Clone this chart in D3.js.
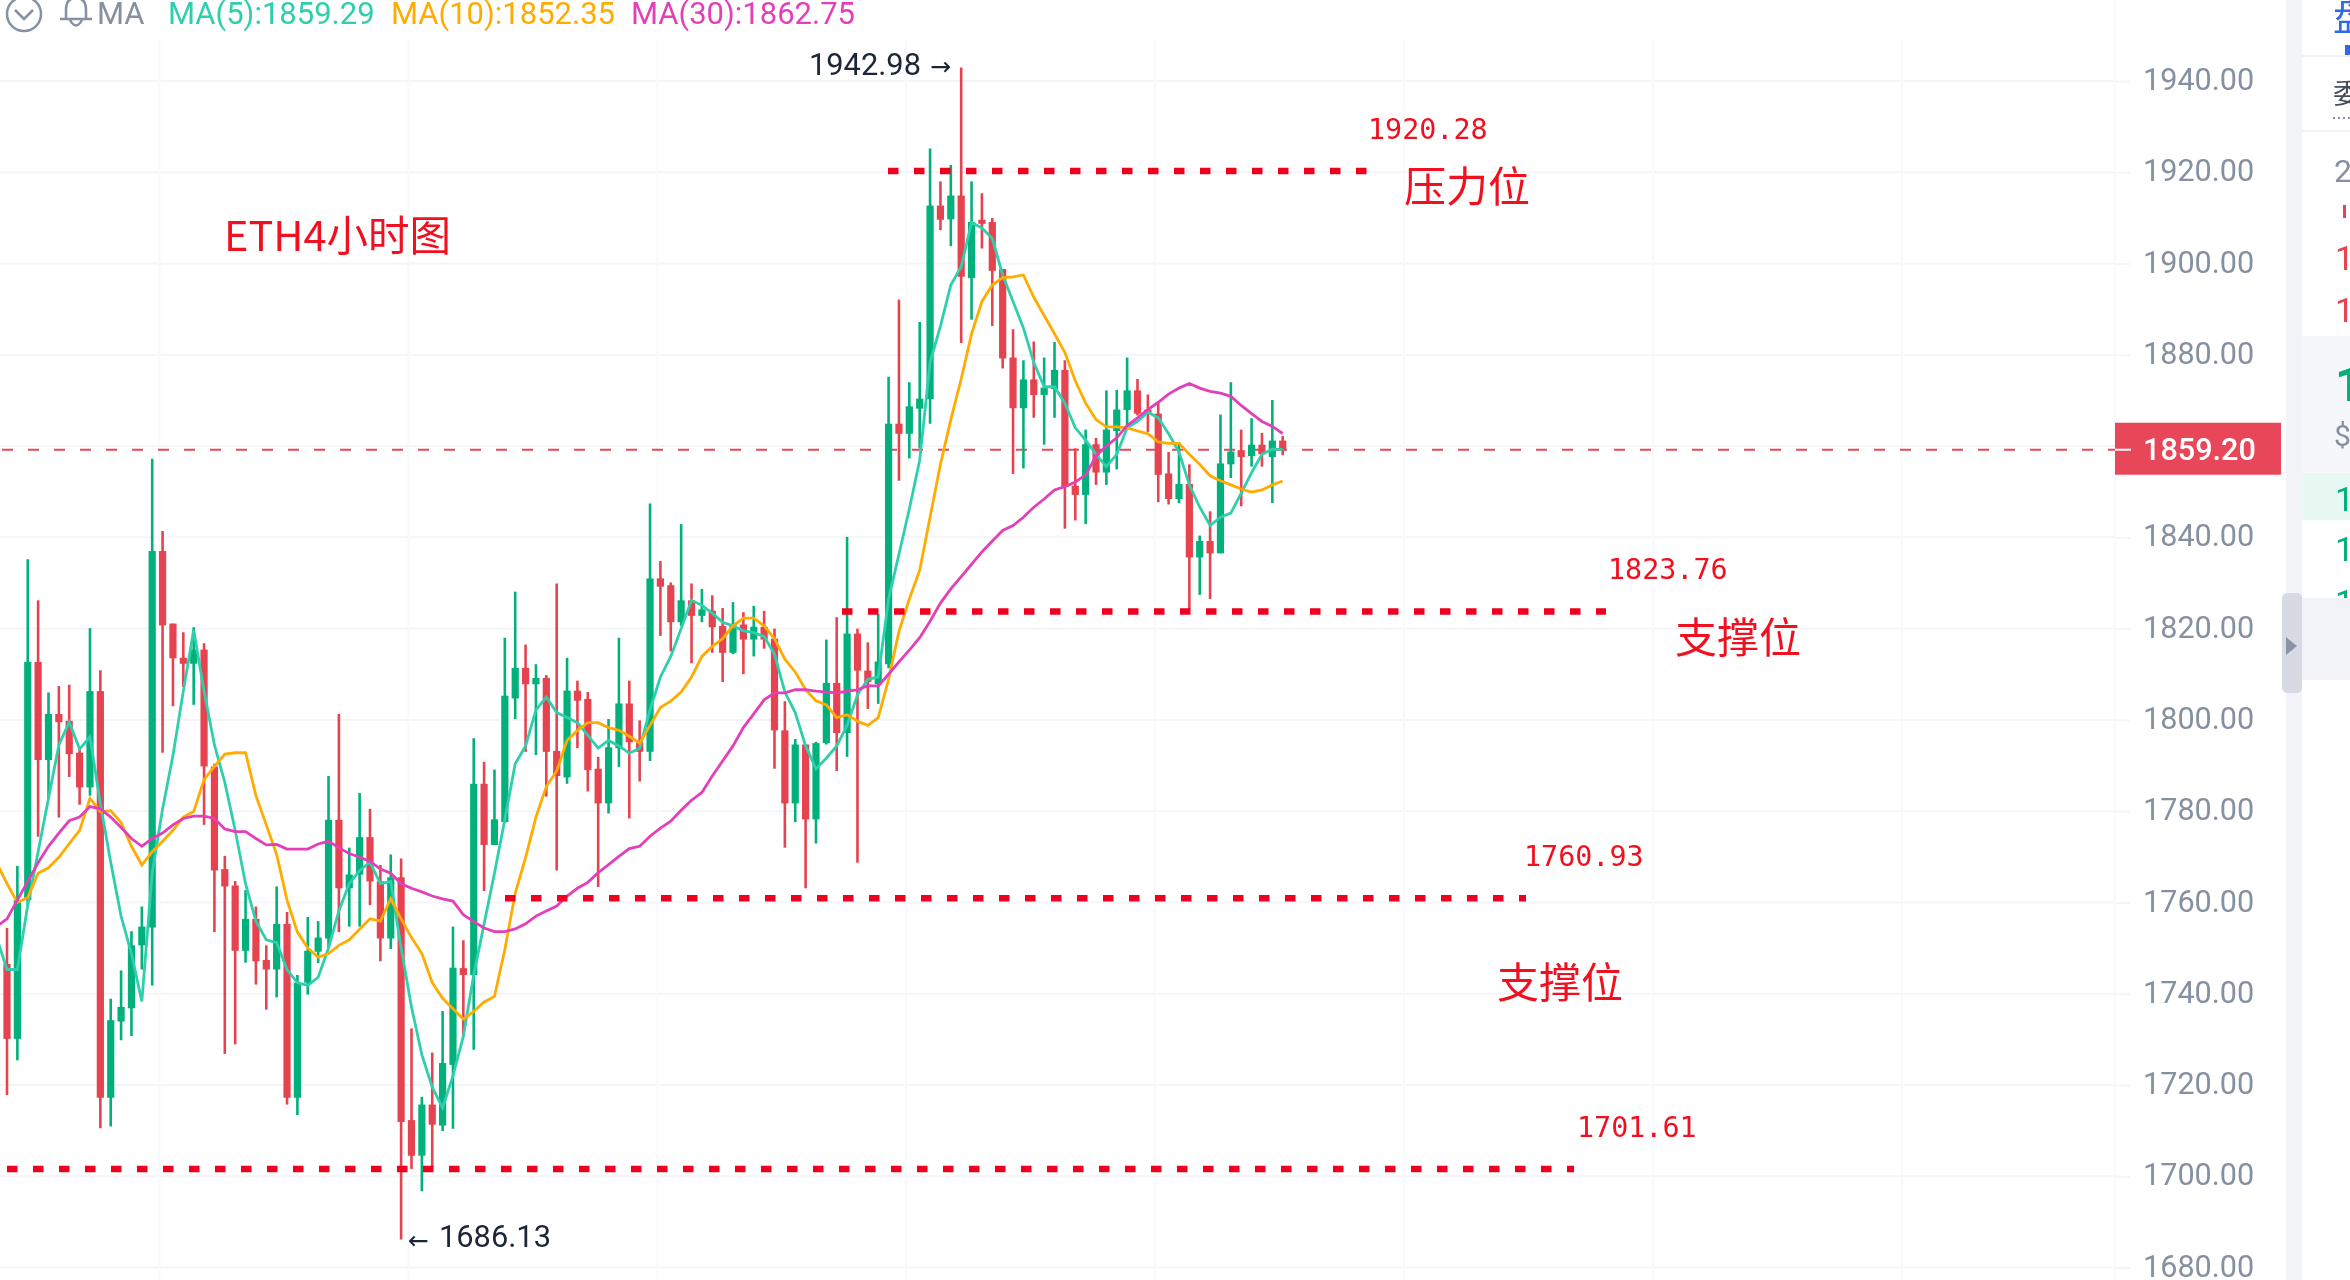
<!DOCTYPE html>
<html>
<head>
<meta charset="utf-8">
<script src="https://cdn.jsdelivr.net/npm/d3@7"></script>
<style>
  html, body { margin: 0; padding: 0; background: #fff; overflow: hidden; }
  text { font-family: Roboto, sans-serif; }
  #svg { filter: blur(0.5px); }
</style>
</head>
<body>
<svg id="svg" width="2350" height="1280"></svg>
<script>
// candles, oldest first
const opens = [
  1746.5,1730.1,1760.5,1812.7,1791.2,1801.3,1799.8,1792.8,1785.2,1806.3,
  1717.2,1733.9,1736.8,1750.6,1754.5,1837.0,1821.1,1813.6,1812.3,1815.4,
  1789.8,1767.3,1763.7,1749.4,1756.4,1747.4,1745.3,1755.3,1717.2,1742.4,
  1749.2,1752.1,1778.1,1763.1,1766.1,1774.3,1764.6,1752.1,1765.5,1712.3,
  1704.5,1715.7,1711.1,1724.4,1745.6,1744.1,1786.0,1772.6,1777.6,1804.7,
  1811.4,1807.8,1809.2,1793.2,1787.4,1806.4,1804.6,1789.3,1781.7,1793.8,
  1803.6,1795.1,1793.0,1831.0,1829.5,1821.4,1826.2,1822.8,1823.9,1820.6,
  1814.7,1820.9,1817.6,1820.4,1817.8,1797.7,1781.7,1794.6,1778.2,1794.9,
  1808.1,1797.1,1818.9,1810.8,1807.8,1812.2,1864.9,1862.7,1868.2,1870.3,
  1912.7,1909.7,1914.9,1896.8,1909.6,1909.1,1898.8,1879.4,1868.3,1874.6,
  1871.2,1872.5,1876.7,1851.3,1849.3,1860.4,1854.2,1863.3,1867.9,1872.2,
  1868.0,1867.1,1854.0,1848.4,1851.7,1835.6,1839.2,1836.5,1856.0,1859.1,
  1857.8,1860.3,1857.6,1861.2
]
const closes = [
  1730.1,1760.5,1812.7,1791.2,1801.3,1799.5,1792.5,1785.2,1806.3,1717.2,
  1734.2,1737.1,1750.6,1754.7,1837.0,1820.7,1813.5,1812.3,1815.4,1789.8,
  1767.0,1763.5,1749.4,1756.4,1747.1,1745.3,1755.3,1717.2,1742.4,1749.4,
  1752.3,1778.1,1763.1,1766.1,1774.3,1764.6,1752.1,1765.5,1711.9,1704.5,
  1715.7,1711.3,1724.8,1745.7,1744.1,1786.0,1772.6,1778.2,1805.3,1811.4,
  1807.8,1809.2,1793.0,1787.7,1806.4,1804.2,1789.0,1781.7,1794.0,1803.6,
  1795.1,1793.0,1831.0,1829.2,1821.4,1826.2,1822.8,1824.2,1820.3,1814.7,
  1820.9,1817.6,1820.4,1817.6,1797.7,1781.7,1794.6,1778.2,1794.9,1808.1,
  1797.1,1818.9,1810.8,1808.3,1812.8,1864.9,1862.7,1868.7,1870.4,1912.7,
  1909.6,1914.9,1897.1,1909.1,1908.7,1898.4,1879.2,1868.3,1874.6,1871.2,
  1872.8,1876.7,1851.1,1849.3,1860.4,1854.2,1863.6,1868.0,1872.2,1867.1,
  1867.1,1853.7,1848.4,1851.7,1835.6,1839.2,1836.5,1856.2,1858.8,1857.6,
  1860.3,1858.2,1861.2,1859.2
]
const highs = [
  1754.4,1768.0,1835.2,1826.2,1806.0,1807.4,1807.7,1793.6,1820.1,1810.9,
  1738.9,1745.1,1753.7,1759.1,1857.2,1841.4,1821.1,1819.2,1820.3,1816.8,
  1790.4,1770.2,1764.7,1762.7,1759.1,1750.6,1763.5,1757.9,1744.1,1756.8,
  1755.9,1787.7,1801.3,1772.0,1784.0,1780.5,1768.2,1770.5,1769.6,1732.4,
  1717.4,1727.1,1736.2,1754.7,1751.7,1796.0,1790.8,1789.1,1818.0,1828.1,
  1816.5,1812.2,1809.8,1829.9,1813.6,1808.6,1806.1,1791.9,1800.2,1818.0,
  1808.6,1799.9,1847.4,1834.8,1830.1,1842.9,1829.9,1828.7,1827.3,1824.5,
  1825.8,1823.6,1825.0,1823.9,1820.0,1804.1,1795.8,1794.6,1795.2,1817.6,
  1822.5,1840.1,1820.0,1817.0,1823.2,1875.2,1892.1,1874.0,1887.2,1925.2,
  1918.0,1921.6,1942.98,1918.0,1915.4,1910.0,1898.8,1885.6,1878.8,1882.9,
  1879.4,1882.8,1878.8,1859.5,1863.6,1861.8,1872.2,1872.3,1879.4,1874.7,
  1871.3,1869.6,1858.7,1860.9,1856.0,1840.4,1845.7,1866.9,1874.0,1863.6,
  1866.1,1862.9,1870.1,1862.2
]
const lows = [
  1717.8,1725.4,1759.4,1774.4,1782.6,1778.6,1787.5,1781.4,1783.4,1710.5,
  1710.9,1729.8,1730.7,1745.3,1741.8,1792.8,1803.0,1807.2,1803.3,1777.0,
  1753.5,1726.8,1728.9,1746.8,1742.0,1736.5,1739.2,1715.7,1713.4,1739.8,
  1746.7,1750.0,1753.5,1754.7,1754.7,1759.4,1747.1,1749.8,1686.13,1701.6,
  1696.7,1702.0,1709.9,1710.4,1730.7,1727.7,1762.5,1772.6,1777.4,1800.2,
  1793.0,1792.3,1783.2,1767.0,1786.0,1793.8,1784.3,1763.4,1779.5,1789.7,
  1778.4,1786.5,1791.0,1818.4,1815.0,1820.6,1812.4,1821.4,1814.7,1808.3,
  1814.4,1810.0,1813.9,1815.6,1789.3,1772.0,1777.6,1763.1,1772.9,1794.6,
  1788.8,1791.9,1768.7,1802.4,1803.5,1811.3,1852.4,1857.3,1859.5,1864.9,
  1907.3,1903.8,1882.6,1887.7,1903.3,1886.3,1877.0,1853.9,1855.1,1866.2,
  1860.3,1866.2,1841.9,1843.7,1842.9,1851.5,1851.5,1854.9,1864.5,1866.7,
  1863.1,1847.7,1847.2,1847.5,1824.3,1827.4,1826.5,1836.5,1853.0,1846.8,
  1855.5,1855.5,1847.5,1858.0
]

// moving averages, first value belongs to the candle just off the left edge
const ma5 = [
  1752.3,
  1745.3,1745.3,1759.4,1771.1,1782.8,1794.5,1799.5,1793.6,1796.3,1781.6,
  1768.8,1757.0,1748.8,1738.3,1766.4,1780.5,1792.2,1806.3,1819.7,1806.3,
  1794.5,1786.3,1775.8,1764.1,1755.9,1751.8,1751.2,1745.3,1742.4,1741.8,
  1743.6,1750.0,1758.2,1764.1,1767.0,1768.8,1764.1,1764.6,1750.0,1737.1,
  1726.6,1719.5,1715.0,1722.0,1730.7,1744.1,1755.3,1766.4,1778.2,1790.4,
  1794.3,1802.2,1805.0,1801.6,1800.5,1799.4,1796.6,1793.8,1795.5,1794.3,
  1792.7,1793.8,1802.2,1809.4,1813.9,1820.0,1826.2,1825.1,1823.4,1821.4,
  1820.6,1819.5,1819.1,1818.3,1814.4,1806.1,1801.6,1794.3,1789.3,1791.6,
  1794.3,1798.8,1805.5,1808.9,1809.4,1826.5,1836.3,1846.2,1856.9,1878.3,
  1886.3,1895.3,1899.3,1909.0,1907.8,1905.5,1897.5,1891.7,1885.9,1878.3,
  1873.0,1873.0,1869.4,1864.0,1861.3,1858.2,1855.5,1858.2,1864.0,1865.4,
  1867.4,1866.2,1862.7,1858.7,1851.5,1846.6,1842.6,1844.4,1845.3,1849.7,
  1854.2,1858.2,1859.3,1859.29
]
const ma10 = [
  1768.7,
  1764.1,1760.0,1761.1,1766.4,1767.6,1769.9,1772.9,1775.8,1782.8,1779.9,
  1780.1,1777.5,1772.3,1768.2,1771.1,1773.4,1775.8,1778.7,1779.9,1786.9,
  1789.8,1792.5,1792.8,1792.8,1783.4,1777.0,1770.5,1760.5,1753.5,1750.0,
  1748.0,1748.8,1750.6,1751.8,1754.1,1756.4,1755.9,1760.8,1756.4,1752.3,
  1748.8,1742.4,1739.0,1736.7,1734.4,1736.1,1738.2,1739.4,1749.7,1762.0,
  1769.8,1778.7,1785.4,1788.8,1795.5,1797.7,1799.4,1799.4,1798.3,1797.7,
  1796.4,1794.9,1798.8,1802.7,1804.1,1806.1,1809.4,1813.9,1816.1,1817.8,
  1820.6,1822.3,1822.3,1820.6,1817.8,1813.3,1810.5,1806.6,1804.2,1803.3,
  1800.5,1801.1,1799.7,1798.8,1800.5,1808.9,1819.4,1826.5,1832.8,1844.4,
  1856.0,1865.8,1874.7,1884.6,1891.7,1895.3,1896.9,1897.1,1897.5,1892.6,
  1888.6,1884.6,1880.5,1874.3,1869.4,1865.8,1864.2,1864.2,1864.0,1863.3,
  1862.7,1860.9,1860.6,1860.6,1858.2,1856.0,1853.5,1852.4,1851.5,1850.6,
  1849.9,1850.4,1851.5,1852.35
]
const ma30 = [
  1754.7,
  1756.4,1760.5,1764.6,1768.7,1772.3,1775.2,1777.9,1778.7,1781.0,1780.5,
  1778.7,1776.4,1774.0,1772.3,1774.0,1775.2,1777.0,1778.4,1778.9,1778.9,
  1778.4,1776.1,1775.5,1775.5,1774.0,1772.6,1772.7,1771.7,1771.7,1771.7,
  1772.8,1773.4,1772.0,1770.7,1769.9,1769.0,1767.3,1766.4,1764.1,1763.1,
  1762.3,1761.4,1760.8,1760.3,1757.3,1755.8,1754.4,1753.6,1753.6,1754.2,
  1755.3,1757.0,1758.1,1759.2,1761.4,1763.1,1764.4,1766.5,1768.3,1770.1,
  1771.8,1772.3,1774.5,1776.3,1777.8,1780.2,1782.4,1784.1,1787.7,1791.0,
  1794.3,1798.3,1801.3,1804.4,1805.9,1805.9,1806.6,1806.6,1806.3,1806.1,
  1805.9,1806.3,1806.6,1807.5,1807.4,1810.0,1812.7,1815.3,1818.0,1821.6,
  1825.6,1828.7,1831.4,1834.1,1836.8,1839.2,1841.5,1842.6,1844.4,1846.6,
  1848.4,1850.4,1851.1,1852.1,1853.7,1857.8,1860.0,1861.8,1864.5,1866.2,
  1868.0,1869.6,1871.4,1872.7,1873.7,1872.7,1872.0,1871.6,1870.9,1868.9,
  1867.1,1865.4,1864.3,1862.75
]

const priceTicks = [1940, 1920, 1900, 1880, 1860, 1840, 1820, 1800, 1780, 1760, 1740, 1720, 1700, 1680]
const gridCandles = [14.7, 38.7, 62.7, 86.7, 110.7, 134.7, 158.7, 182.7]
const lastPrice = 1859.20
const highLabel = '1942.98'
const lowLabel = '1686.13'
const maLegend = ['MA(5):1859.29', 'MA(10):1852.35', 'MA(30):1862.75']

// hand drawn support / resistance levels
const levels = [1920.28, 1823.76, 1760.93, 1701.61]
const levelLabels = ['1920.28', '1823.76', '1760.93', '1701.61']
const levelNames = ['压力位', '支撑位', '支撑位']

const green = '#02b07c'
const red = '#e5434f'
const annot = '#f0101f'
const greyText = '#8590a0'

const xScale = d3.scaleLinear().domain([0, 123]).range([7, 1282.7])
const yScale = d3.scaleLinear().domain([1940, 1680]).range([81, 1267.5])

const svg = d3.select('#svg')
const candles = d3.range(opens.length)

// grid
const grid = svg.append('g').attr('stroke', '#f4f5f8').attr('stroke-width', 2)
grid.selectAll('.h').data(priceTicks).enter().append('line')
  .attr('x1', 0).attr('x2', 2115)
  .attr('y1', d => yScale(d)).attr('y2', d => yScale(d))
grid.selectAll('.v').data(gridCandles).enter().append('line')
  .attr('x1', d => xScale(d)).attr('x2', d => xScale(d))
  .attr('y1', 40).attr('y2', 1280)
  .attr('stroke', '#f8f9fb')
grid.append('line').attr('x1', 2115).attr('x2', 2115).attr('y1', 0).attr('y2', 1280).attr('stroke', '#f8f9fb')

// last price line goes behind the candles
svg.append('line')
  .attr('x1', 2).attr('x2', 2115)
  .attr('y1', yScale(lastPrice)).attr('y2', yScale(lastPrice))
  .attr('stroke', '#e8475a')
  .attr('stroke-width', 2)
  .attr('stroke-dasharray', '11 15')

// candles
const candle = svg.append('g').selectAll('g').data(candles).enter().append('g')
  .attr('fill', i => closes[i] >= opens[i] ? green : red)
  .attr('stroke', i => closes[i] >= opens[i] ? green : red)

candle.append('line')
  .attr('x1', i => xScale(i)).attr('x2', i => xScale(i))
  .attr('y1', i => yScale(highs[i])).attr('y2', i => yScale(lows[i]))
  .attr('stroke-width', 2.6)

candle.append('rect')
  .attr('x', i => xScale(i) - 3.6)
  .attr('width', 7.2)
  .attr('y', i => yScale(Math.max(opens[i], closes[i])))
  .attr('height', i => Math.max(2, Math.abs(yScale(opens[i]) - yScale(closes[i]))))
  .attr('stroke', 'none')

// moving averages
const maLine = d3.line().x((d, i) => xScale(i - 1)).y(d => yScale(d))
const maColours = ['#2fcfae', '#ffab00', '#e23fb9']
;[ma5, ma10, ma30].forEach((values, k) => {
  svg.append('path')
    .attr('d', maLine(values))
    .attr('fill', 'none')
    .attr('stroke', maColours[k])
    .attr('stroke-width', 2.8)
})

// y axis
const axis = svg.append('g')
  .attr('transform', 'translate(2115,0)')
  .call(d3.axisRight(yScale)
    .tickValues(priceTicks)
    .tickFormat(d3.format('.2f'))
    .tickSize(15)
    .tickPadding(13))
axis.select('.domain').remove()
axis.selectAll('line').attr('stroke', '#f4f5f8').attr('stroke-width', 2)
axis.selectAll('text')
  .attr('fill', greyText)
  .attr('dy', '0.28em')
  .style('font-size', '30.6px')

// last price tag
svg.append('rect')
  .attr('x', 2115).attr('width', 166)
  .attr('y', yScale(lastPrice) - 27).attr('height', 52)
  .attr('fill', '#e8475a')
svg.append('line')
  .attr('x1', 2115).attr('x2', 2131)
  .attr('y1', yScale(lastPrice)).attr('y2', yScale(lastPrice))
  .attr('stroke', '#fff').attr('stroke-width', 2)
svg.append('text')
  .text(d3.format('.2f')(lastPrice))
  .attr('x', 2143).attr('y', yScale(lastPrice) + 10)
  .attr('fill', '#fff')
  .style('font-size', '30.6px')
  .style('font-weight', 500)

// high and low markers
svg.append('text').text(highLabel)
  .attr('x', 809).attr('y', 75)
  .attr('fill', '#1c2636').style('font-size', '30.8px')
svg.append('text').text('→')
  .attr('x', 930).attr('y', 75)
  .attr('fill', '#1c2636').style('font-size', '25px').style('font-family', 'DejaVu Sans')
svg.append('text').text('←')
  .attr('x', 408).attr('y', 1249)
  .attr('fill', '#1c2636').style('font-size', '25px').style('font-family', 'DejaVu Sans')
svg.append('text').text(lowLabel)
  .attr('x', 439).attr('y', 1247)
  .attr('fill', '#1c2636').style('font-size', '30.8px')

// dotted level lines
const levelX = [[888, 1367], [842, 1606], [505, 1526], [7, 1574]]
svg.append('g').selectAll('line').data(levels).enter().append('line')
  .attr('x1', (d, i) => levelX[i][0]).attr('x2', (d, i) => levelX[i][1])
  .attr('y1', d => yScale(d)).attr('y2', d => yScale(d))
  .attr('stroke', '#f0001f')
  .attr('stroke-width', 6.5)
  .attr('stroke-dasharray', '10.5 15.5')

const labelPos = [[1368, 139], [1608, 579], [1524, 866], [1577, 1137]]
svg.append('g').selectAll('text').data(levelLabels).enter().append('text')
  .text(d => d)
  .attr('x', (d, i) => labelPos[i][0]).attr('y', (d, i) => labelPos[i][1])
  .attr('fill', annot)
  .style('font-family', 'DejaVu Sans Mono')
  .style('font-size', '28.4px')

const namePos = [[1404, 202], [1675, 653], [1497, 998]]
svg.append('g').selectAll('text').data(levelNames).enter().append('text')
  .text(d => d)
  .attr('x', (d, i) => namePos[i][0]).attr('y', (d, i) => namePos[i][1])
  .attr('fill', annot)
  .style('font-family', 'Noto Sans CJK SC')
  .style('font-size', '42px')

svg.append('text').text('ETH4小时图')
  .attr('x', 224).attr('y', 251)
  .attr('fill', annot)
  .style('font-family', 'Noto Sans CJK SC')
  .style('font-size', '41.5px')

// top legend
svg.append('circle').attr('cx', 24).attr('cy', 14).attr('r', 17)
  .attr('fill', 'none').attr('stroke', greyText).attr('stroke-width', 2.5)
svg.append('path').attr('d', d3.line()([[15, 10], [24, 19], [33, 10]]))
  .attr('fill', 'none').attr('stroke', greyText).attr('stroke-width', 2.5)
svg.append('path').attr('d', 'M60 19 H92 M66 19 V10 Q66 -2 76 -2 Q86 -2 86 10 V19 M70 20 Q76 31 82 20')
  .attr('fill', 'none').attr('stroke', greyText).attr('stroke-width', 2.5)
svg.append('text').text('MA')
  .attr('x', 97).attr('y', 24).attr('fill', greyText).style('font-size', '31px')

const legendX = [168, 391, 631]
svg.append('g').selectAll('text').data(maLegend).enter().append('text')
  .text(d => d)
  .attr('x', (d, i) => legendX[i]).attr('y', 24)
  .attr('fill', (d, i) => maColours[i])
  .style('font-size', '31px')

// right side panel, cut off by the window
svg.append('rect').attr('x', 2302).attr('width', 48).attr('y', 336).attr('height', 137).attr('fill', '#f6f7fa')
svg.append('rect').attr('x', 2302).attr('width', 48).attr('y', 473).attr('height', 47).attr('fill', '#e6f8f1')
svg.append('rect').attr('x', 2302).attr('width', 48).attr('y', 55).attr('height', 2).attr('fill', '#eff1f5')
svg.append('rect').attr('x', 2302).attr('width', 48).attr('y', 130).attr('height', 2).attr('fill', '#eff1f5')
svg.append('rect').attr('x', 2343).attr('width', 3).attr('y', 205).attr('height', 13).attr('fill', red)
svg.append('rect').attr('x', 2345).attr('width', 5).attr('y', 45).attr('height', 10).attr('fill', '#2f6be4')
svg.append('line').attr('x1', 2333).attr('x2', 2350).attr('y1', 118).attr('y2', 118)
  .attr('stroke', '#8590a0').attr('stroke-width', 2).attr('stroke-dasharray', '2 3')

const panelText = [
  ['盘', 2333, 30, '#2f6be4', 38],
  ['委', 2333, 104, '#454c59', 28],
  ['2', 2334, 182, '#8590a0', 32],
  ['1', 2335, 270, red, 34],
  ['1', 2335, 322, red, 34],
  ['1', 2335, 401, green, 48],
  ['$', 2334, 446, '#8590a0', 30],
  ['1', 2335, 511, green, 34],
  ['1', 2335, 561, green, 34],
  ['1', 2335, 614, green, 34]
]
svg.append('g').selectAll('text').data(panelText).enter().append('text')
  .text(d => d[0])
  .attr('x', d => d[1]).attr('y', d => d[2])
  .attr('fill', d => d[3])
  .style('font-family', d => d[0] === '盘' || d[0] === '委' ? 'Noto Sans CJK SC' : 'Roboto')
  .style('font-size', d => d[4] + 'px')
  .style('font-weight', d => d[4] === 48 ? 700 : 400)

// these go over the panel text that runs into them
svg.append('rect').attr('x', 2302).attr('width', 48).attr('y', 598).attr('height', 82).attr('fill', '#f1f3f8')
svg.append('rect').attr('x', 2286).attr('width', 16).attr('y', 0).attr('height', 1280).attr('fill', '#f1f3f8')
svg.append('rect').attr('x', 2282).attr('width', 20).attr('y', 593).attr('height', 100).attr('rx', 5).attr('fill', '#d6dae2')
svg.append('path').attr('d', 'M2286 637 L2297 646 L2286 655 Z').attr('fill', '#8a94a6')
</script>
</body>
</html>
